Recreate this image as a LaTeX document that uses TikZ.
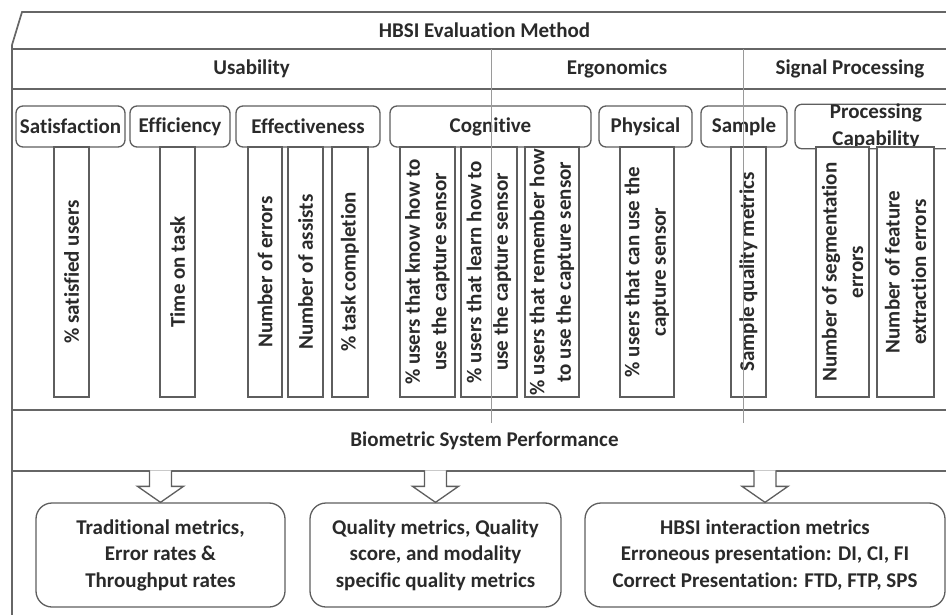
\documentclass[tikz,border=0pt]{standalone}
\usepackage{fontspec}
\setmainfont{Carlito}[Ligatures=NoCommon]
\usetikzlibrary{calc}
\definecolor{frameline}{HTML}{666666}
\definecolor{boxline}{HTML}{5E5E5E}
\definecolor{divline}{HTML}{9A9A9A}
\definecolor{inkgray}{HTML}{2A2A2A}
\tikzset{
  lbl/.style={font=\fontsize{21bp}{26.5bp}\selectfont\bfseries, text=inkgray, inner sep=0pt, align=center},
  frame/.style={draw=frameline, line width=1.7bp},
  divider/.style={draw=divline, line width=1bp},
  subhead/.style={lbl, draw=boxline, line width=1.3bp, fill=white, rounded corners=7bp,
    minimum height=41bp},
  metric/.style={lbl, draw=boxline, line width=1.3bp, fill=white, rotate=90,
    minimum width=250bp},
  outbox/.style={lbl, draw=boxline, line width=1.3bp, fill=white, rounded corners=16bp,
    minimum height=104bp},
  blockarrow/.style={draw=boxline, line width=1.3bp, fill=white, line join=miter},
}
% hollow block arrow running from the performance band down to a result box
\newcommand{\flowinto}[1]{%
  \draw[blockarrow] ($(#1.north)+(-11,-32)$) -- ++(0,16) -- ++(-12,0)
    -- (#1.north) -- ++(23,-16) -- ++(-12,0) -- ++(0,-16);}
\begin{document}
\begin{tikzpicture}[x=1bp, y=-1bp]
\useasboundingbox (0,0) rectangle (946,615);
\clip (0,0) rectangle (946,615);

% outer frame and horizontal bands
\draw[frame] (962,12) -- (22,12) -- (12,45) -- (12,620);
\draw[frame] (12,49) -- (962,49);
\draw[frame] (12,89) -- (962,89);
\draw[frame] (12,410) -- (962,410);
\draw[frame] (12,471) -- (962,471);

% band titles
\node[lbl] (title) at (484.5,30.5) {HBSI Evaluation Method};
\node[lbl] (usab) at (251.5,69) {Usability};
\node[lbl] (ergo) at (617,69) {Ergonomics};
\node[lbl] (sigp) at (850,69) {Signal Processing};
\node[lbl] (bsp) at (484.5,440.5) {Biometric System Performance};

% sub-categories
\node[subhead, minimum width=109bp] (sat) at (70.5,126.5) {Satisfaction};
\node[subhead, minimum width=100bp] (eff) at (180,126.5) {Efficiency};
\node[subhead, minimum width=144bp] (effv) at (308,126.5) {Effectiveness};
\node[subhead, minimum width=201bp] (cog) at (490.5,126.5) {Cognitive};
\node[subhead, minimum width=93bp] (phy) at (645.5,126.5) {Physical};
\node[subhead, minimum width=86bp] (smp) at (744,126.5) {Sample};
\node[subhead, minimum width=162bp] (proc) at (876,126.5) {Processing\\Capability};

% metrics, written bottom to top
\node[metric, minimum height=35bp] (m1) at (71.5,272) {\% satisfied users};
\node[metric, minimum height=35bp] (m2) at (177.5,272) {Time on task};
\node[metric, minimum height=34bp] (m3) at (265,272) {Number of errors};
\node[metric, minimum height=35bp] (m4) at (305.5,272) {Number of assists};
\node[metric, minimum height=36bp] (m5) at (350,272) {\% task completion};
\node[metric, minimum height=55bp] (m6) at (427.5,272) {\% users that know how to\\use the capture sensor};
\node[metric, minimum height=56bp] (m7) at (489,272) {\% users that learn how to\\use the capture sensor};
\node[metric, minimum height=54bp] (m8) at (552,272) {\% users that remember how\\to use the capture sensor};
\node[metric, minimum height=54bp] (m9) at (647,272) {\% users that can use the\\capture sensor};
\node[metric, minimum height=35bp] (m10) at (748.5,272) {Sample quality metrics};
\node[metric, minimum height=53bp] (m11) at (842.5,272) {Number of segmentation\\errors};
\node[metric, minimum height=57bp] (m12) at (905.5,272) {Number of feature\\extraction errors};

% column dividers between the three categories
\draw[divider] (491,49) -- (491,423);
\draw[divider] (743,49) -- (743,423);

% resulting metric groups
\node[outbox, minimum width=249bp] (b1) at (160.5,555) {Traditional metrics,\\Error rates \&\\Throughput rates};
\node[outbox, minimum width=251bp] (b2) at (435.5,555) {Quality metrics, Quality\\score, and modality\\specific quality metrics};
\node[outbox, minimum width=360bp] (b3) at (765,555) {HBSI interaction metrics\\Erroneous presentation: DI, CI, FI\\Correct Presentation: FTD, FTP, SPS};

\flowinto{b1}
\flowinto{b2}
\flowinto{b3}
\end{tikzpicture}
\end{document}
